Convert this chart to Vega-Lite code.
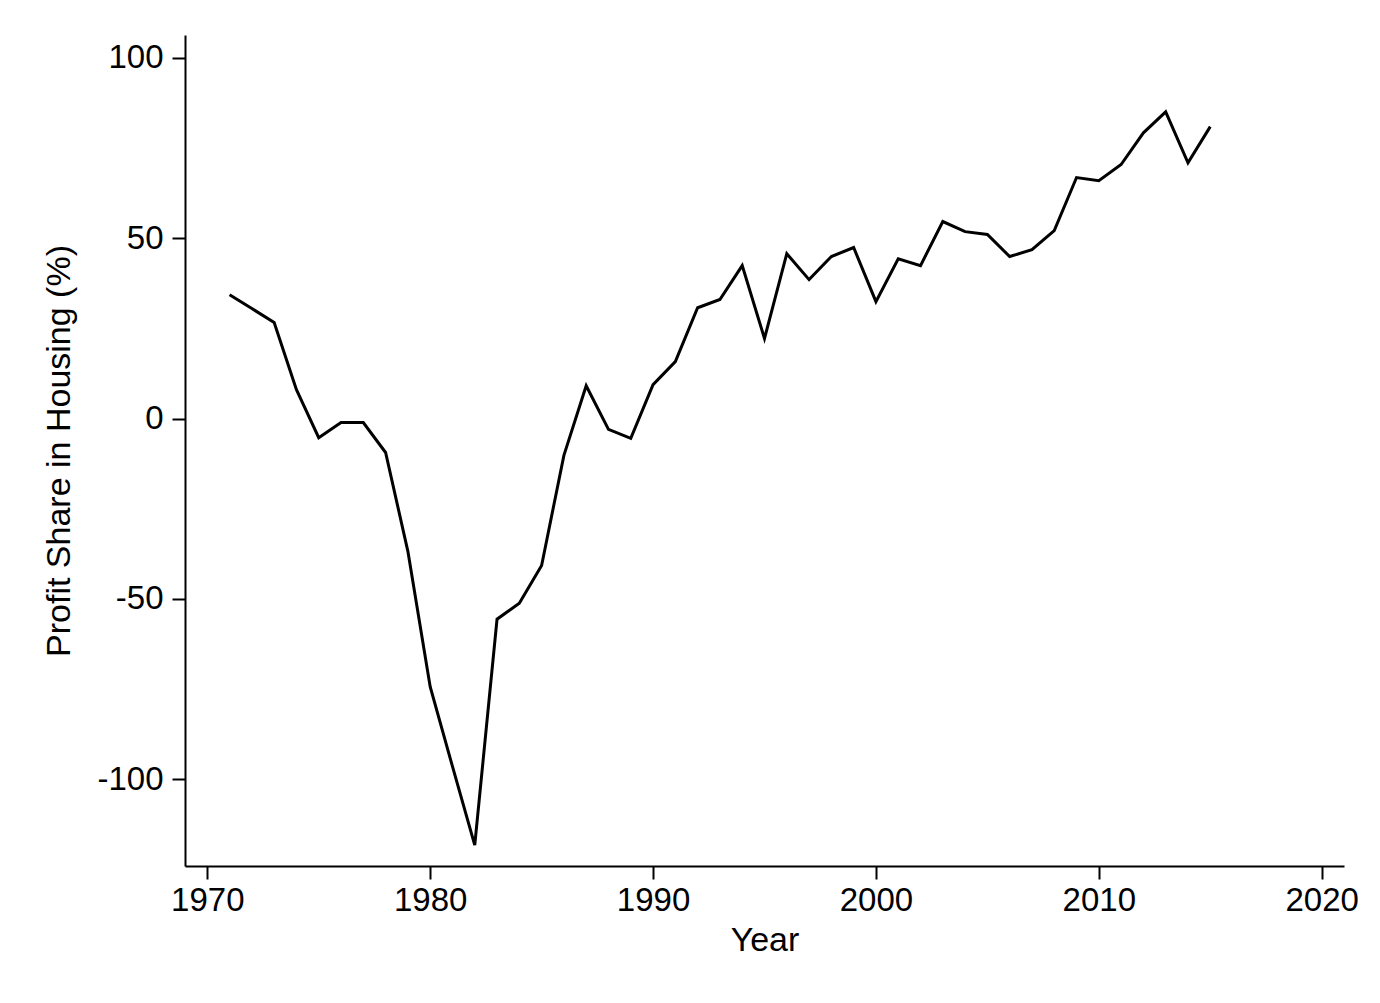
{
  "$schema": "https://vega.github.io/schema/vega-lite/v6.json",
  "autosize": "none",
  "width": 1159,
  "height": 831,
  "padding": {"left": 185, "top": 35, "right": 36, "bottom": 137},
  "background": "white",
  "config": {
    "view": {"stroke": null},
    "font": "Liberation Sans",
    "axis": {
      "grid": false,
      "domainColor": "black",
      "domainWidth": 2,
      "tickColor": "black",
      "tickWidth": 2,
      "tickSize": 13,
      "labelFont": "Liberation Sans",
      "labelFontSize": 33,
      "labelColor": "black",
      "titleFont": "Liberation Sans",
      "titleFontSize": 34,
      "titleFontWeight": "normal",
      "titleColor": "black"
    }
  },
  "data": {
    "values": [
      {"year": 1971, "share": 34.3},
      {"year": 1972, "share": 30.5},
      {"year": 1973, "share": 26.6},
      {"year": 1974, "share": 8.0},
      {"year": 1975, "share": -5.3},
      {"year": 1976, "share": -1.1},
      {"year": 1977, "share": -1.1},
      {"year": 1978, "share": -9.4},
      {"year": 1979, "share": -36.8},
      {"year": 1980, "share": -74.3},
      {"year": 1981, "share": -96.4},
      {"year": 1982, "share": -118.2},
      {"year": 1983, "share": -55.6},
      {"year": 1984, "share": -51.2},
      {"year": 1985, "share": -40.7},
      {"year": 1986, "share": -10.2},
      {"year": 1987, "share": 9.1},
      {"year": 1988, "share": -3.0},
      {"year": 1989, "share": -5.5},
      {"year": 1990, "share": 9.4},
      {"year": 1991, "share": 15.8},
      {"year": 1992, "share": 30.7},
      {"year": 1993, "share": 33.0},
      {"year": 1994, "share": 42.4},
      {"year": 1995, "share": 22.2},
      {"year": 1996, "share": 45.7},
      {"year": 1997, "share": 38.5},
      {"year": 1998, "share": 44.9},
      {"year": 1999, "share": 47.4},
      {"year": 2000, "share": 32.4},
      {"year": 2001, "share": 44.3},
      {"year": 2002, "share": 42.4},
      {"year": 2003, "share": 54.6},
      {"year": 2004, "share": 51.8},
      {"year": 2005, "share": 51.0},
      {"year": 2006, "share": 44.9},
      {"year": 2007, "share": 46.8},
      {"year": 2008, "share": 52.1},
      {"year": 2009, "share": 66.8},
      {"year": 2010, "share": 65.9},
      {"year": 2011, "share": 70.4},
      {"year": 2012, "share": 79.2},
      {"year": 2013, "share": 85.0},
      {"year": 2014, "share": 70.9},
      {"year": 2015, "share": 80.9}
    ]
  },
  "mark": {"type": "line", "color": "black", "strokeWidth": 3},
  "encoding": {
    "x": {
      "field": "year",
      "type": "quantitative",
      "scale": {"domain": [1969, 2021], "nice": false, "zero": false},
      "axis": {"values": [1970, 1980, 1990, 2000, 2010, 2020], "format": "d", "title": "Year", "labelPadding": 5, "titlePadding": 6}
    },
    "y": {
      "field": "share",
      "type": "quantitative",
      "scale": {"domain": [-124, 106.3], "nice": false, "zero": false},
      "axis": {"values": [-100, -50, 0, 50, 100], "labelExpr": "datum.value < 0 ? '-' + abs(datum.value) : '' + datum.value", "title": "Profit Share in Housing (%)", "labelPadding": 9, "titlePadding": 20}
    }
  }
}
